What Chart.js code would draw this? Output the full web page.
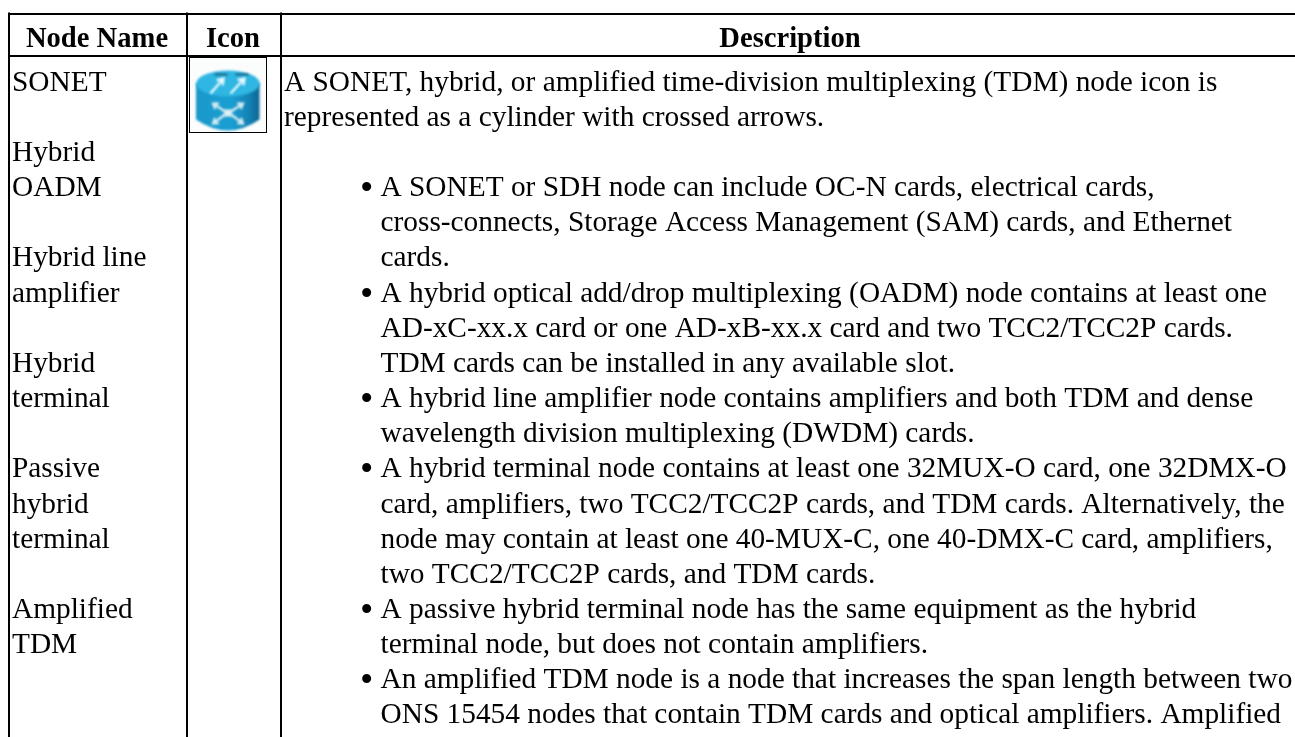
<!DOCTYPE html>
<html>
<head>
<meta charset="utf-8">
<style>
html, body { margin: 0; padding: 0; background: #fff; }
canvas { display: block; }
</style>
<script src="https://cdn.jsdelivr.net/npm/chart.js@4"></script>
</head>
<body>
<canvas id="myChart" width="1295" height="737"></canvas>
<script>
const headers = ['Node Name', 'Icon', 'Description'];
const colEdges = [9, 187, 281];
const rowEdges = [14, 56];

const nodeNames = ['SONET', '', 'Hybrid', 'OADM', '', 'Hybrid line', 'amplifier', '', 'Hybrid', 'terminal', '',
    'Passive', 'hybrid', 'terminal', '', 'Amplified', 'TDM'];

const introLines = [
    'A SONET, hybrid, or amplified time-division multiplexing (TDM) node icon is',
    'represented as a cylinder with crossed arrows.',
    ''
];
// true = starts with a bullet
const bulletLines = [
    [true, 'A SONET or SDH node can include OC-N cards, electrical cards,'],
    [false, 'cross-connects, Storage Access Management (SAM) cards, and Ethernet'],
    [false, 'cards.'],
    [true, 'A hybrid optical add/drop multiplexing (OADM) node contains at least one'],
    [false, 'AD-xC-xx.x card or one AD-xB-xx.x card and two TCC2/TCC2P cards.'],
    [false, 'TDM cards can be installed in any available slot.'],
    [true, 'A hybrid line amplifier node contains amplifiers and both TDM and dense'],
    [false, 'wavelength division multiplexing (DWDM) cards.'],
    [true, 'A hybrid terminal node contains at least one 32MUX-O card, one 32DMX-O'],
    [false, 'card, amplifiers, two TCC2/TCC2P cards, and TDM cards. Alternatively, the'],
    [false, 'node may contain at least one 40-MUX-C, one 40-DMX-C card, amplifiers,'],
    [false, 'two TCC2/TCC2P cards, and TDM cards.'],
    [true, 'A passive hybrid terminal node has the same equipment as the hybrid'],
    [false, 'terminal node, but does not contain amplifiers.'],
    [true, 'An amplified TDM node is a node that increases the span length between two'],
    [false, 'ONS 15454 nodes that contain TDM cards and optical amplifiers. Amplified']
];

const FONT = '"Liberation Serif"';
const SIZE = 29.35;
const HEAD_SIZE = 28.6;
const LINE = 35.15;
const FIRST = 90.7;

const tablePlugin = {
    id: 'tablePlugin',
    afterDatasetsDraw(chart) {
        const c = chart.ctx, x = chart.scales.x, y = chart.scales.y;
        c.save();
        c.fillStyle = '#000';
        c.textBaseline = 'alphabetic';
        c.filter = 'blur(0.35px)';

        c.font = 'bold ' + HEAD_SIZE + 'px ' + FONT;
        c.textAlign = 'center';
        c.fillText(headers[0], x.getPixelForValue(97), y.getPixelForValue(47));
        c.fillText(headers[1], x.getPixelForValue(233), y.getPixelForValue(47));
        c.fillText(headers[2], x.getPixelForValue(790), y.getPixelForValue(47));

        c.font = SIZE + 'px ' + FONT;
        c.textAlign = 'left';
        nodeNames.forEach((t, i) => {
            if (t) c.fillText(t, x.getPixelForValue(12), y.getPixelForValue(FIRST + i * LINE));
        });
        introLines.forEach((t, i) => {
            if (t) c.fillText(t, x.getPixelForValue(284), y.getPixelForValue(FIRST + i * LINE));
        });
        bulletLines.forEach((row, i) => {
            const val = FIRST + (i + introLines.length) * LINE;
            c.fillText(row[1], x.getPixelForValue(380.5), y.getPixelForValue(val));
            if (row[0]) {
                c.font = '38px ' + FONT;
                c.fillText('\u2022', x.getPixelForValue(360), y.getPixelForValue(val + 4));
                c.font = SIZE + 'px ' + FONT;
            }
        });
        c.filter = 'none';

        drawIcon(c, x.getPixelForValue(189.5), y.getPixelForValue(57.5));
        c.restore();
    }
};

function arrow(c, x1, y1, x2, y2, head) {
    const a = Math.atan2(y2 - y1, x2 - x1);
    c.beginPath();
    c.moveTo(x1, y1);
    c.lineTo(x2, y2);
    c.moveTo(x2 - head * Math.cos(a - 0.6), y2 - head * Math.sin(a - 0.6));
    c.lineTo(x2, y2);
    c.lineTo(x2 - head * Math.cos(a + 0.6), y2 - head * Math.sin(a + 0.6));
    c.stroke();
}

function drawIcon(c, left, top) {
    const w = 77, h = 75;
    c.save();
    c.fillStyle = '#fbfdfd';
    c.fillRect(left, top, w, h);
    c.strokeStyle = '#000';
    c.lineWidth = 1;
    c.strokeRect(left, top, w, h);

    c.filter = 'blur(0.9px)';
    const cx = left + 38.5, l = left + 6.5, r = left + 70;
    const body = c.createLinearGradient(l, 0, r, 0);
    body.addColorStop(0, '#1b97cb');
    body.addColorStop(0.55, '#1a9fd2');
    body.addColorStop(0.85, '#1380b2');
    body.addColorStop(1, '#0c6492');
    c.fillStyle = body;
    c.beginPath();
    c.moveTo(l, top + 26);
    c.lineTo(l, top + 62);
    c.quadraticCurveTo(cx, top + 84, r, top + 62);
    c.lineTo(r, top + 26);
    c.closePath();
    c.fill();

    c.fillStyle = '#2fb6e2';
    c.beginPath();
    c.ellipse(cx, top + 26, (r - l) / 2, 13, 0, 0, Math.PI * 2);
    c.fill();

    c.strokeStyle = '#1d4f6b';
    c.lineWidth = 1.6;
    [[25, 38], [46, 59]].forEach(a => {
        c.beginPath();
        c.moveTo(left + a[0], top + 17);
        c.lineTo(left + a[1], top + 17);
        c.stroke();
    });

    c.strokeStyle = '#e8fbff';
    c.lineWidth = 2.4;
    arrow(c, left + 21, top + 36, left + 34, top + 21, 7);
    arrow(c, left + 41, top + 36, left + 55, top + 21, 7);

    c.strokeStyle = '#d8eef4';
    c.lineWidth = 2.2;
    arrow(c, cx - 3, top + 54, cx - 15, top + 46, 6);
    arrow(c, cx + 3, top + 54, cx + 15, top + 46, 6);
    arrow(c, cx - 3, top + 57, cx - 15, top + 66, 6);
    arrow(c, cx + 3, top + 57, cx + 15, top + 66, 6);
    c.fillStyle = '#dfeff2';
    c.fillRect(cx - 4, top + 52, 8, 7);
    c.restore();
}

const rules = [];
colEdges.forEach(v => rules.push([{x: v, y: 12.5}, {x: v, y: 737}]));
rowEdges.forEach(v => rules.push([{x: 8, y: v}, {x: 1295, y: v}]));

var ctx = document.getElementById('myChart').getContext('2d');
var myChart = new Chart(ctx, {
    type: 'scatter',
    data: {
        datasets: rules.map(r => ({
            data: r,
            showLine: true,
            borderColor: '#000',
            borderWidth: 2,
            pointRadius: 0
        }))
    },
    options: {
        responsive: false,
        animation: false,
        layout: { padding: 0 },
        plugins: { legend: { display: false }, tooltip: { enabled: false } },
        scales: {
            x: { type: 'linear', min: 0, max: 1295, display: false },
            y: { type: 'linear', min: 0, max: 737, reverse: true, display: false }
        }
    },
    plugins: [tablePlugin]
});
</script>
</body>
</html>
